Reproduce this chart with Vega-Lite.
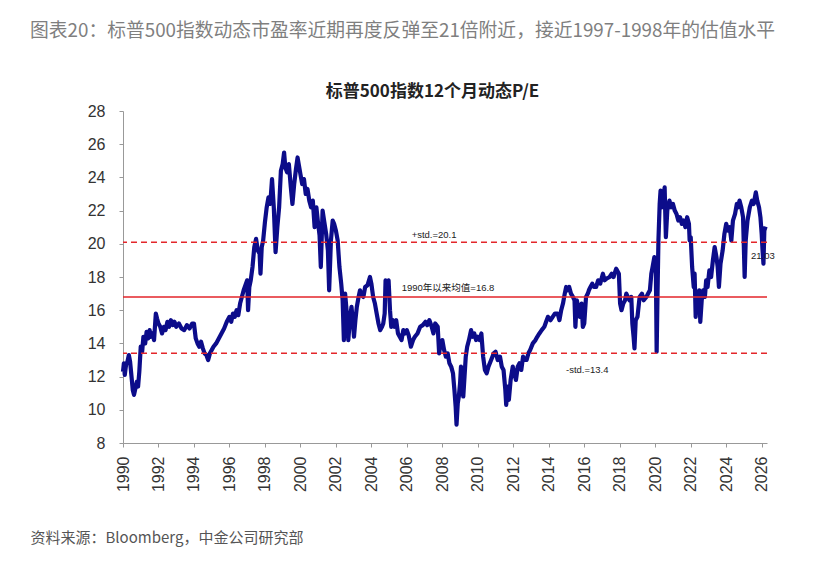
{
  "$schema": "https://vega.github.io/schema/vega-lite/v6.json",
  "width": 644,
  "height": 332,
  "autosize": {"type": "none"},
  "padding": {"left": 123, "top": 111, "right": 64, "bottom": 119},
  "background": "white",
  "config": {"view": {"stroke": null}, "font": "Liberation Sans", "axis": {"labelOverlap": false, "labelFlush": false, "labelBound": false}},
  "title": {
    "text": "图表20：标普500指数动态市盈率近期再度反弹至21倍附近，接近1997-1998年的估值水平",
    "anchor": "start",
    "frame": "group",
    "dx": -93,
    "offset": 41,
    "font": "Noto Sans CJK SC",
    "fontSize": 18.8,
    "fontWeight": "normal",
    "color": "#7f7f7f"
  },
  "layer": [
    {
      "data": {
        "values": [
          {"year": 1990.00, "pe": 12.3}, {"year": 1990.05, "pe": 12.8}, {"year": 1990.10, "pe": 12.1}, {"year": 1990.17, "pe": 12.7},
          {"year": 1990.25, "pe": 12.9}, {"year": 1990.33, "pe": 13.3}, {"year": 1990.40, "pe": 12.9}, {"year": 1990.48, "pe": 12.0},
          {"year": 1990.55, "pe": 11.2}, {"year": 1990.62, "pe": 10.9}, {"year": 1990.70, "pe": 11.3}, {"year": 1990.78, "pe": 11.7},
          {"year": 1990.85, "pe": 11.4}, {"year": 1990.92, "pe": 12.3}, {"year": 1991.00, "pe": 13.8}, {"year": 1991.08, "pe": 13.5},
          {"year": 1991.15, "pe": 14.4}, {"year": 1991.25, "pe": 14.0}, {"year": 1991.33, "pe": 14.7}, {"year": 1991.42, "pe": 14.3},
          {"year": 1991.50, "pe": 14.8}, {"year": 1991.58, "pe": 14.4}, {"year": 1991.67, "pe": 14.6}, {"year": 1991.75, "pe": 14.2},
          {"year": 1991.85, "pe": 15.8}, {"year": 1991.92, "pe": 15.5}, {"year": 1992.00, "pe": 15.2}, {"year": 1992.10, "pe": 15.0},
          {"year": 1992.20, "pe": 14.6}, {"year": 1992.30, "pe": 15.0}, {"year": 1992.40, "pe": 14.8}, {"year": 1992.50, "pe": 15.3},
          {"year": 1992.60, "pe": 15.0}, {"year": 1992.70, "pe": 15.4}, {"year": 1992.80, "pe": 15.1}, {"year": 1992.90, "pe": 15.3},
          {"year": 1993.00, "pe": 15.0}, {"year": 1993.15, "pe": 15.2}, {"year": 1993.30, "pe": 14.9}, {"year": 1993.45, "pe": 14.8},
          {"year": 1993.60, "pe": 15.1}, {"year": 1993.75, "pe": 14.9}, {"year": 1993.90, "pe": 15.2}, {"year": 1994.00, "pe": 15.2},
          {"year": 1994.10, "pe": 14.3}, {"year": 1994.20, "pe": 14.0}, {"year": 1994.30, "pe": 13.8}, {"year": 1994.40, "pe": 14.1},
          {"year": 1994.50, "pe": 13.7}, {"year": 1994.60, "pe": 13.4}, {"year": 1994.70, "pe": 13.3}, {"year": 1994.80, "pe": 13.0},
          {"year": 1994.90, "pe": 13.4}, {"year": 1995.00, "pe": 13.6}, {"year": 1995.10, "pe": 13.8}, {"year": 1995.25, "pe": 14.0},
          {"year": 1995.40, "pe": 14.3}, {"year": 1995.55, "pe": 14.6}, {"year": 1995.70, "pe": 14.9}, {"year": 1995.85, "pe": 15.3},
          {"year": 1996.00, "pe": 15.6}, {"year": 1996.10, "pe": 15.3}, {"year": 1996.20, "pe": 15.8}, {"year": 1996.30, "pe": 15.6},
          {"year": 1996.40, "pe": 16.0}, {"year": 1996.50, "pe": 15.7}, {"year": 1996.60, "pe": 16.4}, {"year": 1996.70, "pe": 16.8},
          {"year": 1996.80, "pe": 17.2}, {"year": 1996.90, "pe": 17.5}, {"year": 1997.00, "pe": 17.8}, {"year": 1997.05, "pe": 16.0},
          {"year": 1997.12, "pe": 17.4}, {"year": 1997.20, "pe": 17.8}, {"year": 1997.30, "pe": 18.6}, {"year": 1997.40, "pe": 19.8},
          {"year": 1997.50, "pe": 20.3}, {"year": 1997.60, "pe": 19.6}, {"year": 1997.70, "pe": 19.4}, {"year": 1997.75, "pe": 18.2},
          {"year": 1997.82, "pe": 19.8}, {"year": 1997.90, "pe": 20.2}, {"year": 1998.00, "pe": 21.3}, {"year": 1998.10, "pe": 22.2},
          {"year": 1998.20, "pe": 22.8}, {"year": 1998.30, "pe": 22.4}, {"year": 1998.40, "pe": 23.9}, {"year": 1998.50, "pe": 22.2},
          {"year": 1998.60, "pe": 19.5}, {"year": 1998.70, "pe": 21.0}, {"year": 1998.80, "pe": 22.2}, {"year": 1998.90, "pe": 24.4},
          {"year": 1999.00, "pe": 24.8}, {"year": 1999.08, "pe": 25.5}, {"year": 1999.15, "pe": 24.6}, {"year": 1999.25, "pe": 24.3},
          {"year": 1999.35, "pe": 24.8}, {"year": 1999.46, "pe": 23.4}, {"year": 1999.55, "pe": 22.4}, {"year": 1999.65, "pe": 23.6},
          {"year": 1999.75, "pe": 24.5}, {"year": 1999.84, "pe": 25.2}, {"year": 1999.92, "pe": 24.7}, {"year": 2000.00, "pe": 24.2},
          {"year": 2000.10, "pe": 23.6}, {"year": 2000.20, "pe": 23.9}, {"year": 2000.30, "pe": 23.0}, {"year": 2000.40, "pe": 23.3},
          {"year": 2000.50, "pe": 22.6}, {"year": 2000.60, "pe": 22.2}, {"year": 2000.70, "pe": 22.6}, {"year": 2000.80, "pe": 21.0},
          {"year": 2000.90, "pe": 22.2}, {"year": 2001.00, "pe": 21.2}, {"year": 2001.08, "pe": 20.5}, {"year": 2001.15, "pe": 18.6},
          {"year": 2001.25, "pe": 22.0}, {"year": 2001.35, "pe": 21.3}, {"year": 2001.45, "pe": 20.6}, {"year": 2001.55, "pe": 19.6},
          {"year": 2001.62, "pe": 17.2}, {"year": 2001.72, "pe": 20.2}, {"year": 2001.82, "pe": 21.4}, {"year": 2001.90, "pe": 21.2},
          {"year": 2002.00, "pe": 20.8}, {"year": 2002.10, "pe": 20.2}, {"year": 2002.20, "pe": 18.6}, {"year": 2002.30, "pe": 17.6},
          {"year": 2002.38, "pe": 16.6}, {"year": 2002.45, "pe": 14.2}, {"year": 2002.52, "pe": 17.0}, {"year": 2002.60, "pe": 16.0},
          {"year": 2002.70, "pe": 14.2}, {"year": 2002.80, "pe": 15.6}, {"year": 2002.88, "pe": 16.2}, {"year": 2002.95, "pe": 15.4},
          {"year": 2003.02, "pe": 14.4}, {"year": 2003.10, "pe": 15.4}, {"year": 2003.18, "pe": 16.2}, {"year": 2003.28, "pe": 16.8},
          {"year": 2003.36, "pe": 17.2}, {"year": 2003.45, "pe": 16.9}, {"year": 2003.55, "pe": 16.8}, {"year": 2003.65, "pe": 17.4},
          {"year": 2003.78, "pe": 17.5}, {"year": 2003.92, "pe": 18.0}, {"year": 2004.00, "pe": 17.6}, {"year": 2004.10, "pe": 16.8},
          {"year": 2004.20, "pe": 16.4}, {"year": 2004.30, "pe": 15.8}, {"year": 2004.40, "pe": 15.2}, {"year": 2004.50, "pe": 14.8},
          {"year": 2004.60, "pe": 15.0}, {"year": 2004.67, "pe": 15.2}, {"year": 2004.75, "pe": 15.8}, {"year": 2004.80, "pe": 17.8},
          {"year": 2004.88, "pe": 17.4}, {"year": 2004.97, "pe": 17.8}, {"year": 2005.05, "pe": 16.0}, {"year": 2005.12, "pe": 15.0},
          {"year": 2005.20, "pe": 15.4}, {"year": 2005.30, "pe": 15.0}, {"year": 2005.40, "pe": 15.4}, {"year": 2005.50, "pe": 14.6},
          {"year": 2005.60, "pe": 14.4}, {"year": 2005.70, "pe": 14.2}, {"year": 2005.80, "pe": 14.8}, {"year": 2005.90, "pe": 14.6},
          {"year": 2006.00, "pe": 14.8}, {"year": 2006.10, "pe": 14.5}, {"year": 2006.23, "pe": 13.8}, {"year": 2006.35, "pe": 14.2},
          {"year": 2006.45, "pe": 14.4}, {"year": 2006.60, "pe": 14.6}, {"year": 2006.75, "pe": 15.0}, {"year": 2006.90, "pe": 15.1},
          {"year": 2007.05, "pe": 15.3}, {"year": 2007.15, "pe": 15.1}, {"year": 2007.27, "pe": 15.4}, {"year": 2007.40, "pe": 15.0},
          {"year": 2007.50, "pe": 14.6}, {"year": 2007.60, "pe": 15.2}, {"year": 2007.74, "pe": 15.0}, {"year": 2007.82, "pe": 13.4},
          {"year": 2007.90, "pe": 14.0}, {"year": 2008.00, "pe": 14.2}, {"year": 2008.10, "pe": 13.6}, {"year": 2008.20, "pe": 13.2},
          {"year": 2008.30, "pe": 13.4}, {"year": 2008.40, "pe": 12.8}, {"year": 2008.50, "pe": 12.6}, {"year": 2008.60, "pe": 12.2},
          {"year": 2008.68, "pe": 11.2}, {"year": 2008.75, "pe": 10.2}, {"year": 2008.80, "pe": 9.1}, {"year": 2008.87, "pe": 10.4},
          {"year": 2008.93, "pe": 10.8}, {"year": 2009.00, "pe": 11.6}, {"year": 2009.05, "pe": 12.6}, {"year": 2009.12, "pe": 11.8},
          {"year": 2009.18, "pe": 10.8}, {"year": 2009.25, "pe": 12.0}, {"year": 2009.32, "pe": 13.2}, {"year": 2009.40, "pe": 13.8},
          {"year": 2009.50, "pe": 14.2}, {"year": 2009.62, "pe": 14.8}, {"year": 2009.70, "pe": 14.4}, {"year": 2009.80, "pe": 14.6},
          {"year": 2009.90, "pe": 14.2}, {"year": 2010.00, "pe": 14.4}, {"year": 2010.10, "pe": 14.2}, {"year": 2010.20, "pe": 14.6},
          {"year": 2010.30, "pe": 13.2}, {"year": 2010.40, "pe": 12.4}, {"year": 2010.50, "pe": 12.2}, {"year": 2010.60, "pe": 12.6},
          {"year": 2010.75, "pe": 13.0}, {"year": 2010.90, "pe": 13.4}, {"year": 2011.00, "pe": 13.5}, {"year": 2011.12, "pe": 13.0},
          {"year": 2011.25, "pe": 13.2}, {"year": 2011.35, "pe": 12.6}, {"year": 2011.45, "pe": 12.4}, {"year": 2011.55, "pe": 11.2},
          {"year": 2011.60, "pe": 10.3}, {"year": 2011.68, "pe": 11.4}, {"year": 2011.75, "pe": 10.6}, {"year": 2011.85, "pe": 11.8},
          {"year": 2011.97, "pe": 12.6}, {"year": 2012.05, "pe": 12.2}, {"year": 2012.15, "pe": 11.8}, {"year": 2012.25, "pe": 12.6},
          {"year": 2012.35, "pe": 12.8}, {"year": 2012.45, "pe": 12.4}, {"year": 2012.55, "pe": 13.2}, {"year": 2012.65, "pe": 13.0},
          {"year": 2012.75, "pe": 13.0}, {"year": 2012.85, "pe": 13.4}, {"year": 2012.95, "pe": 13.6}, {"year": 2013.10, "pe": 14.0},
          {"year": 2013.25, "pe": 14.2}, {"year": 2013.35, "pe": 14.4}, {"year": 2013.47, "pe": 14.6}, {"year": 2013.60, "pe": 14.8},
          {"year": 2013.75, "pe": 15.0}, {"year": 2013.85, "pe": 15.3}, {"year": 2013.95, "pe": 15.6}, {"year": 2014.10, "pe": 15.4},
          {"year": 2014.22, "pe": 15.6}, {"year": 2014.35, "pe": 15.8}, {"year": 2014.50, "pe": 15.8}, {"year": 2014.60, "pe": 15.4},
          {"year": 2014.70, "pe": 16.0}, {"year": 2014.80, "pe": 16.4}, {"year": 2014.90, "pe": 17.0}, {"year": 2014.98, "pe": 17.4},
          {"year": 2015.05, "pe": 17.2}, {"year": 2015.15, "pe": 17.4}, {"year": 2015.25, "pe": 17.0}, {"year": 2015.36, "pe": 16.8},
          {"year": 2015.45, "pe": 16.6}, {"year": 2015.50, "pe": 15.0}, {"year": 2015.58, "pe": 16.6}, {"year": 2015.65, "pe": 16.2},
          {"year": 2015.75, "pe": 15.6}, {"year": 2015.85, "pe": 16.4}, {"year": 2015.92, "pe": 15.0}, {"year": 2016.00, "pe": 15.2},
          {"year": 2016.10, "pe": 16.8}, {"year": 2016.20, "pe": 17.0}, {"year": 2016.26, "pe": 17.2}, {"year": 2016.35, "pe": 17.4},
          {"year": 2016.45, "pe": 17.6}, {"year": 2016.55, "pe": 17.4}, {"year": 2016.67, "pe": 17.4}, {"year": 2016.78, "pe": 17.8},
          {"year": 2016.90, "pe": 17.6}, {"year": 2017.05, "pe": 18.2}, {"year": 2017.15, "pe": 17.8}, {"year": 2017.25, "pe": 17.9},
          {"year": 2017.43, "pe": 18.0}, {"year": 2017.55, "pe": 18.2}, {"year": 2017.65, "pe": 18.0}, {"year": 2017.80, "pe": 18.5},
          {"year": 2017.95, "pe": 18.2}, {"year": 2018.02, "pe": 16.4}, {"year": 2018.10, "pe": 16.0}, {"year": 2018.20, "pe": 16.4},
          {"year": 2018.30, "pe": 16.6}, {"year": 2018.37, "pe": 17.0}, {"year": 2018.45, "pe": 16.8}, {"year": 2018.55, "pe": 16.6},
          {"year": 2018.65, "pe": 16.8}, {"year": 2018.71, "pe": 15.2}, {"year": 2018.78, "pe": 14.4}, {"year": 2018.83, "pe": 13.7},
          {"year": 2018.90, "pe": 15.4}, {"year": 2019.00, "pe": 15.6}, {"year": 2019.12, "pe": 16.8}, {"year": 2019.25, "pe": 17.0},
          {"year": 2019.35, "pe": 16.6}, {"year": 2019.50, "pe": 16.8}, {"year": 2019.60, "pe": 17.0}, {"year": 2019.70, "pe": 17.2},
          {"year": 2019.78, "pe": 18.2}, {"year": 2019.85, "pe": 18.6}, {"year": 2019.95, "pe": 19.2}, {"year": 2020.03, "pe": 19.0},
          {"year": 2020.08, "pe": 13.5}, {"year": 2020.13, "pe": 17.0}, {"year": 2020.18, "pe": 20.2}, {"year": 2020.25, "pe": 22.4},
          {"year": 2020.30, "pe": 23.2}, {"year": 2020.38, "pe": 22.2}, {"year": 2020.45, "pe": 22.6}, {"year": 2020.53, "pe": 23.4},
          {"year": 2020.60, "pe": 20.4}, {"year": 2020.68, "pe": 22.0}, {"year": 2020.80, "pe": 22.6}, {"year": 2020.90, "pe": 22.2},
          {"year": 2021.00, "pe": 22.4}, {"year": 2021.10, "pe": 22.0}, {"year": 2021.20, "pe": 21.8}, {"year": 2021.30, "pe": 21.4},
          {"year": 2021.40, "pe": 21.6}, {"year": 2021.50, "pe": 21.2}, {"year": 2021.60, "pe": 21.4}, {"year": 2021.70, "pe": 21.0},
          {"year": 2021.80, "pe": 21.6}, {"year": 2021.90, "pe": 21.2}, {"year": 2021.94, "pe": 20.2}, {"year": 2022.00, "pe": 20.4},
          {"year": 2022.08, "pe": 18.6}, {"year": 2022.17, "pe": 17.4}, {"year": 2022.22, "pe": 18.2}, {"year": 2022.28, "pe": 15.6},
          {"year": 2022.35, "pe": 17.0}, {"year": 2022.42, "pe": 16.4}, {"year": 2022.48, "pe": 17.2}, {"year": 2022.54, "pe": 15.3},
          {"year": 2022.62, "pe": 16.6}, {"year": 2022.70, "pe": 17.2}, {"year": 2022.80, "pe": 16.8}, {"year": 2022.87, "pe": 17.8},
          {"year": 2022.95, "pe": 17.4}, {"year": 2023.05, "pe": 18.4}, {"year": 2023.15, "pe": 18.0}, {"year": 2023.25, "pe": 19.0},
          {"year": 2023.35, "pe": 19.8}, {"year": 2023.45, "pe": 19.2}, {"year": 2023.52, "pe": 18.6}, {"year": 2023.59, "pe": 17.4},
          {"year": 2023.68, "pe": 18.8}, {"year": 2023.80, "pe": 19.6}, {"year": 2023.90, "pe": 20.6}, {"year": 2024.00, "pe": 21.2},
          {"year": 2024.10, "pe": 20.8}, {"year": 2024.20, "pe": 21.0}, {"year": 2024.29, "pe": 20.2}, {"year": 2024.38, "pe": 21.4},
          {"year": 2024.50, "pe": 21.8}, {"year": 2024.60, "pe": 22.4}, {"year": 2024.67, "pe": 22.2}, {"year": 2024.75, "pe": 22.6},
          {"year": 2024.85, "pe": 22.2}, {"year": 2024.95, "pe": 21.6}, {"year": 2025.04, "pe": 18.0}, {"year": 2025.10, "pe": 20.2},
          {"year": 2025.20, "pe": 21.4}, {"year": 2025.33, "pe": 22.2}, {"year": 2025.45, "pe": 22.6}, {"year": 2025.55, "pe": 22.4},
          {"year": 2025.67, "pe": 23.1}, {"year": 2025.75, "pe": 22.6}, {"year": 2025.85, "pe": 22.2}, {"year": 2025.93, "pe": 21.6},
          {"year": 2026.00, "pe": 20.6}, {"year": 2026.05, "pe": 19.6}, {"year": 2026.10, "pe": 18.8}, {"year": 2026.15, "pe": 20.8},
          {"year": 2026.22, "pe": 21.03}
        ]
      },
      "mark": {"type": "line", "color": "#0c0c8a", "strokeWidth": 4.2, "strokeJoin": "round"},
      "encoding": {
        "x": {
          "field": "year",
          "type": "quantitative",
          "scale": {"domain": [1990, 2026.3], "nice": false, "zero": false},
          "axis": {
            "values": [1990, 1992, 1994, 1996, 1998, 2000, 2002, 2004, 2006, 2008, 2010, 2012, 2014, 2016, 2018, 2020, 2022, 2024, 2026],
            "tickCount": 19,
            "format": "d",
            "labelAngle": -90,
            "labelFontSize": 16,
            "labelColor": "#333333",
            "labelPadding": 9,
            "labelOverlap": false,
            "labelFlush": false,
            "tickSize": 4,
            "tickColor": "#999999",
            "domainColor": "#999999",
            "grid": false,
            "title": "资料来源：Bloomberg，中金公司研究部",
            "titleFont": "Noto Sans CJK SC",
            "titleFontSize": 15,
            "titleFontWeight": "normal",
            "titleColor": "#555555",
            "titleAlign": "left",
            "titleAnchor": "start",
            "titleBaseline": "middle",
            "titleX": -93,
            "titleY": 94
          }
        },
        "y": {
          "field": "pe",
          "type": "quantitative",
          "scale": {"domain": [8, 28], "nice": false, "zero": false},
          "axis": {
            "values": [8, 10, 12, 14, 16, 18, 20, 22, 24, 26, 28],
            "tickCount": 11,
            "labelFontSize": 16,
            "labelColor": "#333333",
            "labelPadding": 14,
            "labelOverlap": false,
            "labelFlush": false,
            "tickSize": 4,
            "tickColor": "#999999",
            "domainColor": "#999999",
            "grid": false,
            "title": "标普500指数12个月动态P/E",
            "titleFont": "Noto Sans CJK SC",
            "titleFontSize": 17,
            "titleFontWeight": "bold",
            "titleColor": "#222222",
            "titleAngle": 0,
            "titleAlign": "center",
            "titleBaseline": "middle",
            "titleX": 309,
            "titleY": -20
          }
        }
      }
    },
    {
      "data": {
        "values": [
          {"v": 20.1, "t": "dash"},
          {"v": 16.8, "t": "solid"},
          {"v": 13.4, "t": "dash"}
        ]
      },
      "mark": {"type": "rule", "color": "#e3262b", "strokeWidth": 1.5},
      "encoding": {
        "y": {"field": "v", "type": "quantitative"},
        "strokeDash": {
          "field": "t",
          "type": "nominal",
          "scale": {"domain": ["dash", "solid"], "range": [[6, 4], [1, 0]]},
          "legend": null
        }
      }
    },
    {
      "data": {
        "values": [
          {"year": 2006.27, "pe": 20.53, "label": "+std.=20.1"},
          {"year": 2005.71, "pe": 17.34, "label": "1990年以来均值=16.8"},
          {"year": 2014.97, "pe": 12.4, "label": "-std.=13.4"}
        ]
      },
      "mark": {"type": "text", "align": "left", "baseline": "middle", "fontSize": 9.5, "font": "Liberation Sans, Noto Sans CJK SC", "color": "#222222"},
      "encoding": {
        "x": {"field": "year", "type": "quantitative"},
        "y": {"field": "pe", "type": "quantitative"},
        "text": {"field": "label"}
      }
    },
    {
      "data": {"values": [{"year": 2026.07, "pe": 19.27, "label": "21.03"}]},
      "mark": {"type": "text", "align": "center", "baseline": "middle", "fontSize": 9.5, "font": "Liberation Sans", "color": "#222222"},
      "encoding": {
        "x": {"field": "year", "type": "quantitative"},
        "y": {"field": "pe", "type": "quantitative"},
        "text": {"field": "label"}
      }
    }
  ]
}
